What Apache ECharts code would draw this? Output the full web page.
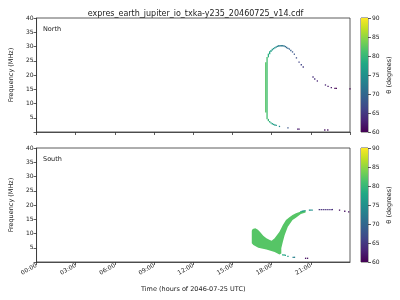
<!DOCTYPE html>
<html>
<head>
<meta charset="utf-8">
<script src="https://cdn.jsdelivr.net/npm/echarts@6/dist/echarts.min.js"></script>
<style>html,body{margin:0;padding:0;background:#fff}#c{width:400px;height:300px}</style>
</head>
<body>
<div id="c"></div>
<script>
// ---- data ----
const titleText = 'expres_earth_jupiter_io_txka-y235_20460725_v14.cdf';
const xTickLabels = ['00:00','03:00','06:00','09:00','12:00','15:00','18:00','21:00'];
const thetaTicks = [60, 65, 70, 75, 80, 85, 90];
const viridis = ['#440154','#482475','#414487','#355f8d','#2a788e','#21918c','#22a884','#44bf70','#7ad151','#bddf26','#fde725'];

// North: [hour, fLow (MHz), fHigh (MHz), theta (deg)]
const northCols = [
  [17.55, 6.8, 24.5, 82], [17.65, 4.5, 26.3, 81],
  [17.75, 3.8, 4.6, 80], [17.75, 26.2, 27.5, 79],
  [17.85, 3.3, 3.9, 79], [17.85, 27.3, 28.3, 78],
  [17.95, 3.0, 3.4, 78], [17.95, 28.1, 28.8, 77],
  [18.05, 2.7, 3.1, 77], [18.05, 28.6, 29.2, 76],
  [18.15, 2.5, 2.8, 77], [18.15, 29.0, 29.5, 75],
  [18.25, 2.3, 2.6, 76], [18.25, 29.3, 29.8, 75],
  [18.35, 2.2, 2.4, 76], [18.35, 29.6, 30.1, 74],
  [18.45, 29.8, 30.3, 73], [18.55, 29.9, 30.5, 73], [18.65, 30.0, 30.5, 72],
  [18.75, 30.0, 30.5, 72], [18.85, 30.0, 30.5, 72], [18.95, 29.9, 30.4, 71],
  [19.05, 29.7, 30.2, 71], [19.15, 29.4, 29.9, 70], [19.25, 29.1, 29.6, 70],
  [18.6, 1.8, 2.1, 74], [19.25, 1.3, 1.6, 68],
  [19.36, 28.9, 29.3, 69], [19.47, 28.4, 28.8, 69], [19.6, 27.9, 28.3, 68],
  [19.74, 27.1, 27.5, 68], [19.9, 25.8, 26.2, 67], [20.1, 24.3, 24.7, 66],
  [20.27, 23.4, 23.8, 66], [20.42, 22.6, 23.0, 65],
  [21.17, 19.1, 19.5, 64], [21.3, 18.4, 18.8, 64], [21.5, 17.7, 18.1, 63],
  [22.12, 16.3, 16.7, 63], [22.32, 15.8, 16.2, 62], [22.57, 15.4, 15.8, 62],
  [22.85, 15.1, 15.5, 60], [22.95, 15.1, 15.5, 60], [24.0, 14.9, 15.3, 60],
  [20.0, 0.8, 1.2, 62], [20.1, 0.8, 1.2, 62],
  [22.07, 0.5, 0.9, 61], [22.3, 0.5, 0.9, 61]
];

// South emission blob outline: [hour, freq]
const southBlob = [
  [16.48, 11.0], [16.55, 11.6], [16.75, 11.8], [16.95, 11.3], [17.1, 10.6],
  [17.36, 9.2], [17.6, 8.3], [17.86, 7.7], [18.0, 7.5], [18.23, 8.3],
  [18.6, 10.6], [18.86, 13.0], [19.1, 14.7], [19.36, 15.7], [19.6, 16.5],
  [19.86, 17.1], [20.24, 17.7], [20.6, 18.0],
  [20.6, 17.4], [20.24, 16.8], [19.86, 15.5], [19.6, 14.7], [19.24, 12.4],
  [19.0, 9.5], [18.86, 7.1], [18.74, 4.8], [18.74, 3.0], [18.6, 2.6],
  [18.23, 3.5], [17.6, 4.4], [16.98, 5.0], [16.6, 6.0], [16.48, 6.6]
];
const southBlobTheta = 82;

// South: [hour, fLow, fHigh, theta]
const southCols = [
  [20.25, 17.4, 17.9, 78], [20.35, 17.6, 18.0, 77], [20.45, 17.7, 18.1, 76],
  [20.55, 17.8, 18.2, 76], [20.9, 18.0, 18.4, 75], [21.0, 18.0, 18.4, 75], [21.1, 18.0, 18.4, 75],
  [21.65, 18.2, 18.6, 64], [21.8, 18.2, 18.6, 64], [21.95, 18.2, 18.6, 64], [22.1, 18.2, 18.6, 64],
  [22.25, 18.2, 18.6, 64], [22.4, 18.2, 18.6, 64], [22.55, 18.2, 18.6, 64], [22.65, 18.2, 18.6, 64],
  [23.2, 18.0, 18.4, 61], [23.6, 17.6, 18.0, 61], [23.9, 17.4, 17.8, 61],
  [18.85, 2.3, 2.7, 78], [18.95, 2.3, 2.6, 78], [19.05, 2.2, 2.5, 77],
  [19.25, 1.8, 2.1, 76], [19.65, 1.5, 1.8, 73], [19.75, 1.5, 1.8, 73],
  [20.6, 1.1, 1.5, 61], [20.75, 1.1, 1.5, 61]
];

// ---- render ----
const chart = echarts.init(document.getElementById('c'), null, {renderer: 'canvas'});
const TXT = '#222';
const FONT = 'DejaVu Sans';

function colRender(params, api) {
  const x = api.value(0), lo = api.value(1), hi = api.value(2);
  const a = api.coord([x, hi]), b = api.coord([x, lo]);
  const w = Math.max(api.size([0.1, 0])[0], 1.3);
  const rawH = b[1] - a[1];
  const h = Math.max(rawH, 1.3);
  return {type: 'rect', shape: {x: a[0] - w / 2, y: a[1] - (h - rawH) / 2, width: w, height: h},
    style: {fill: api.visual('color')}};
}
function blobRender(params, api) {
  const pts = southBlob.map(p => api.coord(p));
  return {type: 'polygon', shape: {points: pts}, style: {fill: api.visual('color')}};
}
function cbarRender(params, api) {
  const a = api.coord([0, api.value(2)]), b = api.coord([0, api.value(1)]);
  const w = api.size([1, 0])[0];
  const stops = viridis.map((c, i) => ({offset: i / (viridis.length - 1), color: c}));
  return {type: 'rect', shape: {x: a[0] - w / 2, y: a[1], width: w, height: b[1] - a[1]},
    style: {fill: new echarts.graphic.LinearGradient(0, 1, 0, 0, stops)}};
}

const mainGrids = [{top: 18}, {top: 148}];
const grid = [];
const xAxis = [], yAxis = [];
mainGrids.forEach((g, i) => {
  grid.push({left: 31, top: g.top, width: 319, height: 114, show: true, borderColor: '#333', borderWidth: 0.8, backgroundColor: 'transparent'});
  xAxis.push({
    type: 'value', gridIndex: i, min: 0, max: 24, interval: 3,
    axisLine: {show: true, onZero: false, lineStyle: {color: '#333', width: 0.8}},
    axisTick: {show: true, length: 3, lineStyle: {color: '#333', width: 0.8}},
    splitLine: {show: false},
    axisLabel: {show: i === 1, rotate: 30, fontSize: 6, margin: 3, color: TXT, fontFamily: FONT,
      showMaxLabel: false,
      formatter: v => (v / 3 < xTickLabels.length ? xTickLabels[v / 3] : '')},
    name: i === 1 ? 'Time (hours of 2046-07-25 UTC)' : '',
    nameLocation: 'middle', nameGap: 24,
    nameTextStyle: {fontSize: 6.5, color: TXT, fontFamily: FONT}
  });
  yAxis.push({
    type: 'value', gridIndex: i, min: 0, max: 40, interval: 5,
    axisLine: {show: true, lineStyle: {color: '#333', width: 0.8}},
    axisTick: {show: true, length: 3, lineStyle: {color: '#333', width: 0.8}},
    splitLine: {show: false},
    axisLabel: {fontSize: 6, margin: 3, color: TXT, fontFamily: FONT, formatter: v => (v === 0 ? '' : String(v))},
    name: 'Frequency (MHz)', nameLocation: 'middle', nameGap: 17,
    nameTextStyle: {fontSize: 6.5, color: TXT, fontFamily: FONT}
  });
});
mainGrids.forEach((g, i) => {
  grid.push({left: 361, top: g.top, width: 7, height: 114, show: true, borderColor: '#333', borderWidth: 0.8, backgroundColor: 'transparent'});
  xAxis.push({type: 'category', gridIndex: 2 + i, data: ['c'], show: false});
  yAxis.push({
    type: 'value', gridIndex: 2 + i, min: thetaTicks[0], max: thetaTicks[thetaTicks.length - 1], interval: 5,
    position: 'right',
    axisLine: {show: false},
    axisTick: {show: true, length: 3, lineStyle: {color: '#333', width: 0.8}},
    splitLine: {show: false},
    axisLabel: {fontSize: 6, margin: 4, color: TXT, fontFamily: FONT},
    name: 'θ (degrees)', nameLocation: 'middle', nameGap: 18, nameRotate: 90,
    nameTextStyle: {fontSize: 6.5, color: TXT, fontFamily: FONT}
  });
});

chart.setOption({
  animation: false,
  title: {text: titleText, left: 190.5, top: 5, textAlign: 'center',
    textStyle: {fontSize: 8, fontWeight: 'normal', color: TXT, fontFamily: FONT}},
  grid, xAxis, yAxis,
  visualMap: {type: 'continuous', show: false, min: 60, max: 90, dimension: 3, seriesIndex: [0, 1, 2],
    inRange: {color: viridis}},
  graphic: [
    {type: 'text', left: 43, top: 26, style: {text: 'North', fontSize: 6.5, fill: TXT, fontFamily: FONT}},
    {type: 'text', left: 43, top: 156, style: {text: 'South', fontSize: 6.5, fill: TXT, fontFamily: FONT}}
  ],
  series: [
    {type: 'custom', xAxisIndex: 0, yAxisIndex: 0, renderItem: colRender, data: northCols, clip: true},
    {type: 'custom', xAxisIndex: 1, yAxisIndex: 1, renderItem: blobRender,
      data: [[southBlob[0][0], southBlob[0][1], southBlob[0][1], southBlobTheta]], clip: true},
    {type: 'custom', xAxisIndex: 1, yAxisIndex: 1, renderItem: colRender, data: southCols, clip: true},
    {type: 'custom', xAxisIndex: 2, yAxisIndex: 2, renderItem: cbarRender, data: [[0, 60, 90]]},
    {type: 'custom', xAxisIndex: 3, yAxisIndex: 3, renderItem: cbarRender, data: [[0, 60, 90]]}
  ]
});
</script>
</body>
</html>
